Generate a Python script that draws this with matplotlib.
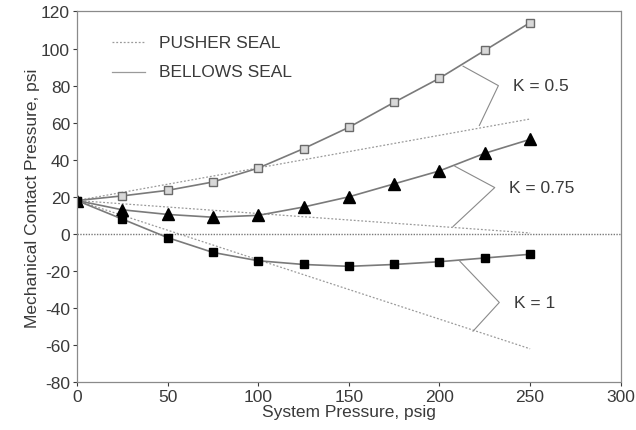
import matplotlib.pyplot as plt

# Datos
presion = [0, 25, 50, 75, 100, 125, 150, 175, 200, 225, 250]
fuelle_k05 = [18, 20.5, 23.5, 28, 35.5, 46, 57.5, 71, 84, 99, 114]
fuelle_k075 = [18, 13, 10.5, 9, 10, 14.5, 20, 27, 34, 43.5, 51]
fuelle_k1 = [18, 8, -2, -10, -14.5, -16.5, -17.5, -16.5, -15, -13, -11]

presion_empuje = [0, 250]
empuje_k05 = [18, 62]
empuje_k075 = [18, 0.5]
empuje_k1 = [18, -62]

etiquetas_k = ['K = 0.5', 'K = 0.75', 'K = 1']
# corchetes: punto en curva de fuelle, vértice, punto en línea de empuje
corchetes = [
    [(213, 90.5), (232.5, 80), (222, 58.5)],
    [(208.5, 36.5), (230.5, 25), (207.5, 4)],
    [(211, -14.5), (233, -37), (218.5, -52.5)],
]

plt.rcParams['font.family'] = ['Liberation Sans', 'DejaVu Sans']
plt.rcParams['axes.unicode_minus'] = False
gris_texto = '#3a3a3a'

fig = plt.figure(figsize=(6.36, 4.31), dpi=100)
ax = fig.add_axes([0.121, 0.111, 0.855, 0.860])

# líneas de sello de empuje (punteadas)
for y in [empuje_k05, empuje_k075, empuje_k1]:
    ax.plot(presion_empuje, y, color='#9a9a9a', lw=0.9, ls=(0, (1.5, 1.5)))

# línea del cero
ax.axhline(0, color='#7a7a7a', lw=1.0, ls=(0, (1, 1)))

# sello de fuelle
ax.plot(presion, fuelle_k05, color='#7a7a7a', lw=1.2, marker='s', ms=6,
        mfc='#d8d8d8', mec='#6a6a6a', mew=1.0)
ax.plot(presion, fuelle_k075, color='#7a7a7a', lw=1.2, marker='^', ms=8.5,
        mfc='black', mec='black')
ax.plot(presion, fuelle_k1, color='#7a7a7a', lw=1.2, marker='s', ms=6,
        mfc='black', mec='black')

# corchetes y etiquetas K
for pts, txt in zip(corchetes, etiquetas_k):
    xs = [p[0] for p in pts]
    ys = [p[1] for p in pts]
    ax.plot(xs, ys, color='#8a8a8a', lw=0.8)
    ax.text(pts[1][0] + 8, pts[1][1], txt, fontsize=12.5, color=gris_texto,
            va='center', ha='left')

# leyenda manual
ax.plot([19.5, 37.5], [103.5, 103.5], color='#9a9a9a', lw=0.9, ls=(0, (1.5, 1.5)))
ax.text(45.5, 103.5, 'PUSHER SEAL', fontsize=12.5, color=gris_texto, va='center')
ax.plot([19.5, 37.5], [87.5, 87.5], color='#9a9a9a', lw=0.9)
ax.text(45.5, 87.5, 'BELLOWS SEAL', fontsize=12.5, color=gris_texto, va='center')

ax.set_xlim(0, 300)
ax.set_ylim(-80, 120)
ax.set_xticks(range(0, 301, 50))
ax.set_yticks(range(-80, 121, 20))
ax.tick_params(labelsize=12.5, colors=gris_texto, length=3, direction='out', pad=2)
for s in ax.spines.values():
    s.set_color('#8a8a8a')
    s.set_linestyle((0, (1, 1)))
    s.set_linewidth(0.9)

ax.set_xlabel('System Pressure, psig', fontsize=12.5, color=gris_texto, labelpad=0)
ax.set_ylabel('Mechanical Contact Pressure, psi', fontsize=12.5, color=gris_texto, labelpad=1)

plt.savefig('out.png', dpi=100)
